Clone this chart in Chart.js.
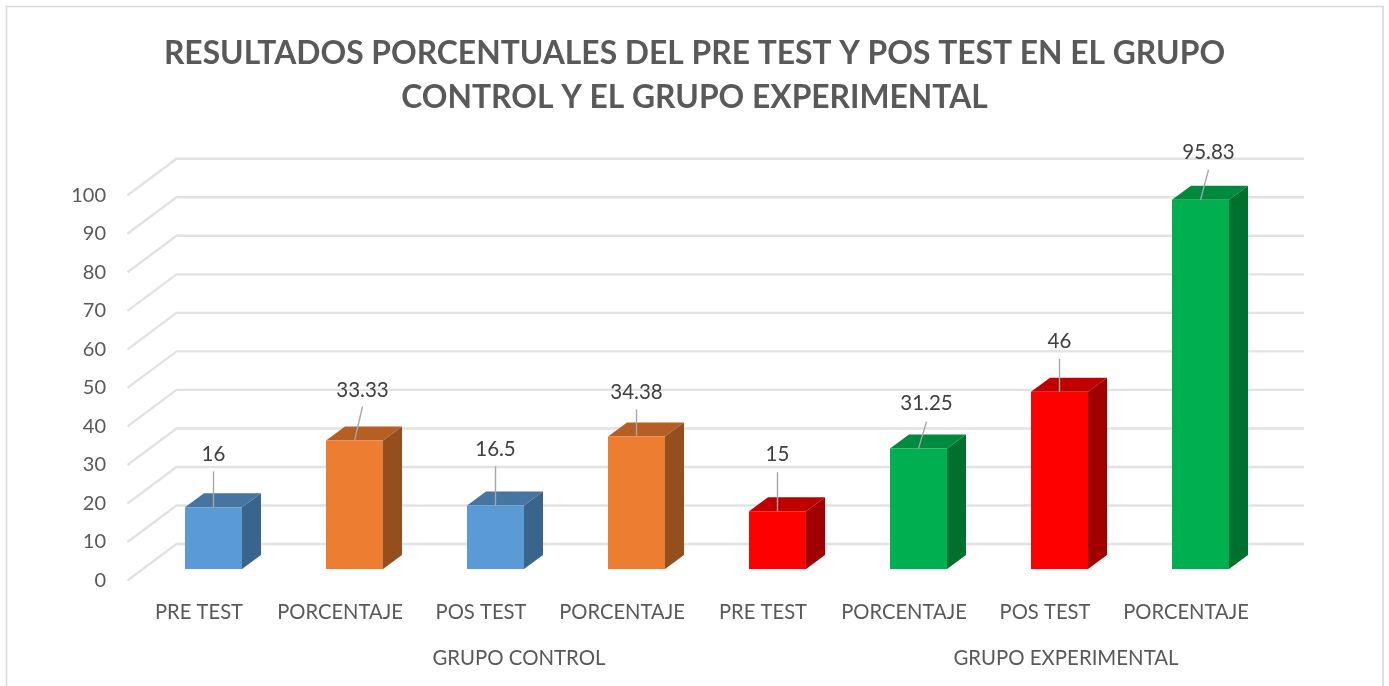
<!DOCTYPE html>
<html><head><meta charset="utf-8">
<style>html,body{margin:0;padding:0;background:#fff}#w{width:1389px;height:686px}</style>
<script src="https://cdn.jsdelivr.net/npm/chart.js@4"></script>
</head><body><div id="w"><canvas id="c"></canvas></div>
<script>
const categories = ["PRE TEST","PORCENTAJE","POS TEST","PORCENTAJE","PRE TEST","PORCENTAJE","POS TEST","PORCENTAJE"];
const values = [16,33.33,16.5,34.38,15,31.25,46,95.83];
const valueLabels = ["16","33.33","16.5","34.38","15","31.25","46","95.83"];
const groups = ["GRUPO CONTROL","GRUPO EXPERIMENTAL"];
const yTicks = [0,10,20,30,40,50,60,70,80,90,100];
const title = ["RESULTADOS PORCENTUALES DEL PRE TEST Y POS TEST EN EL GRUPO","CONTROL Y EL GRUPO EXPERIMENTAL"];

const FONT = 'Lato, "Open Sans", sans-serif';
const front = ["#5B9BD5","#ED7D31","#5B9BD5","#ED7D31","#FF0000","#00B050","#FF0000","#00B050"];
const top3d = ["#4675A1","#B65F25","#4675A1","#B65F25","#C00000","#008A3E","#C00000","#008A3E"];
const side3d = ["#39658D","#954F1F","#39658D","#954F1F","#A00000","#00702F","#A00000","#00702F"];
const labelStyle = [[0,-36,-53],[8,-34,-50],[0,-39,-56],[0,-27,-44],[0,-39,-57],[8,-27,-45],[0,-33,-50],[8,-30,-47]];
const groupX = [519,1066];

const scene = {
  id:'scene',
  beforeDraw(ch){
    const c=ch.ctx; c.save();
    c.strokeStyle='#D9D9D9'; c.lineWidth=1.6; c.beginPath();
    c.moveTo(6.5,690); c.lineTo(6.5,6.5); c.lineTo(1383,6.5); c.lineTo(1383,690); c.stroke();
    c.restore();
  },
  beforeDatasetsDraw(ch){
    const c=ch.ctx, y=ch.scales.y;
    c.save();
    c.strokeStyle='#E2E2E2'; c.lineWidth=2.4; c.lineJoin='round';
    yTicks.forEach(v=>{
      const p=y.getPixelForValue(v);
      c.beginPath(); c.moveTo(127.5,p+11.5); c.lineTo(176.5,p-25); c.lineTo(1304,p-25); c.stroke();
    });
    const m=ch.getDatasetMeta(0), dx=19, dy=14;
    m.data.forEach((b,i)=>{
      const l=b.x-b.width/2, r=b.x+b.width/2, t=b.y, o=b.base;
      c.fillStyle=top3d[i]; c.beginPath();
      c.moveTo(l,t); c.lineTo(l+dx,t-dy); c.lineTo(r+dx,t-dy); c.lineTo(r,t); c.closePath(); c.fill();
      c.fillStyle=side3d[i]; c.beginPath();
      c.moveTo(r,t); c.lineTo(r+dx,t-dy); c.lineTo(r+dx,o-dy); c.lineTo(r,o); c.closePath(); c.fill();
    });
    c.restore();
  },
  afterDatasetsDraw(ch){
    const c=ch.ctx, m=ch.getDatasetMeta(0);
    c.save();
    m.data.forEach((b,i)=>{
      const [ox,end,lab]=labelStyle[i];
      c.strokeStyle='#A6A6A6'; c.lineWidth=1.4; c.beginPath();
      c.moveTo(b.x,b.y); c.lineTo(b.x+ox,b.y+end); c.stroke();
      c.fillStyle='#404040'; c.font='20.5px '+FONT; c.textAlign='center'; c.textBaseline='middle';
      c.fillText(valueLabels[i],b.x+ox,b.y+lab);
    });
    c.fillStyle='#595959'; c.font='20.4px '+FONT; c.textAlign='center'; c.textBaseline='middle';
    groups.forEach((g,i)=>c.fillText(g,groupX[i],658));
    c.restore();
  }
};

new Chart(document.getElementById('c'),{
  type:'bar',
  data:{labels:categories,datasets:[{data:values,backgroundColor:front,borderWidth:0,barPercentage:1,categoryPercentage:57/141}]},
  plugins:[scene],
  options:{
    responsive:true,maintainAspectRatio:false,animation:false,
    layout:{padding:0},
    plugins:{
      legend:{display:false},tooltip:{enabled:false},
      title:{display:true,text:title,color:'#595959',font:{family:FONT,size:31.8,weight:'bold',lineHeight:1.38},padding:{top:32,bottom:64}}
    },
    scales:{
      x:{grid:{display:false},border:{display:false},
        ticks:{color:'#595959',font:{family:FONT,size:20.2},padding:23,labelOffset:-14.5,maxRotation:0,autoSkip:false},
        afterFit(s){s.height=117;}},
      y:{min:0,max:100,grid:{display:false},border:{display:false},
        afterBuildTicks(s){s.ticks=yTicks.map(v=>({value:v}));},
        ticks:{color:'#595959',font:{family:FONT,size:20},padding:29,labelOffset:11.5},
        afterFit(s){s.width=143;}},
      y2:{position:'right',min:0,max:100,grid:{display:false},border:{display:false},
        ticks:{display:false},afterFit(s){s.width=118;}}
    }
  }
});
</script></body></html>
